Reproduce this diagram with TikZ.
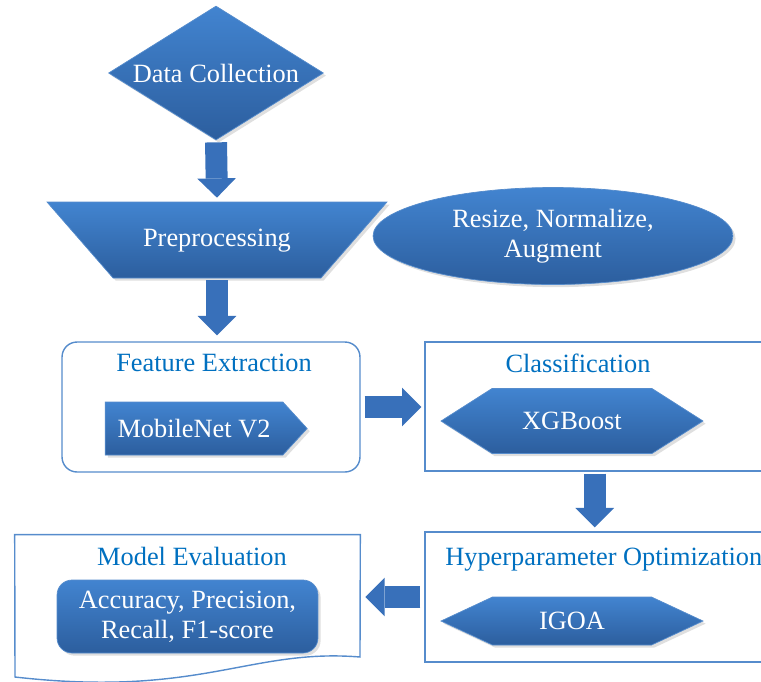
\documentclass[tikz,border=0pt]{standalone}
\usepackage{fontspec}
\setmainfont{Liberation Serif}
\newfontfamily\myserif{Liberation Serif}
\usepackage{tikz}
\usetikzlibrary{calc,shapes.geometric,shapes.symbols,arrows.meta,shadows,positioning}
\definecolor{myBlueTop}{RGB}{66,132,208}
\definecolor{myBlueBot}{RGB}{44,94,158}
\definecolor{myEdgeBlue}{RGB}{86,140,204}
\definecolor{myTitleBlue}{RGB}{0,112,192}
\definecolor{myArrowBlue}{RGB}{56,112,186}
\tikzset{
myShape/.style={
	top color=myBlueTop, bottom color=myBlueBot, draw=myEdgeBlue, thin,
	inner sep=0pt, text=white, align=center,
	font=\myserif\fontsize{15}{17}\selectfont,
	drop shadow={shadow xshift=1.5pt, shadow yshift=-1.5pt, opacity=0.25}
}
, myDiamond/.style={
	myShape, diamond, aspect=1.6, minimum width=4.3cm, minimum height=2.68cm
}
, myTrap/.style={
	myShape, trapezium, trapezium angle=49, shape border rotate=180,
	text height=0.4cm, text depth=0.13cm, inner ysep=0.495cm,
	trapezium stretches body=true, minimum width=6.8cm
}
, myEllipse/.style={
	myShape, ellipse, minimum width=7.2cm, minimum height=1.94cm
}
, myPointer/.style={
	myShape, signal, signal to=east, signal pointer angle=95,
	minimum width=4.04cm, minimum height=1.06cm
}
, myHexa/.style={
	myShape, signal, signal to=west and east, minimum width=5.24cm
}
, myRound/.style={
	myShape, rectangle, rounded corners=0.3cm,
	minimum width=5.22cm, minimum height=1.46cm
}
% group boxes
, myGroup/.style={
	draw=myEdgeBlue, line width=0.8pt, fill=white, inner sep=0pt
}
, myFrame/.style={draw=myEdgeBlue, line width=0.8pt}
, myTitle/.style={
	text=myTitleBlue, inner sep=0pt, font=\myserif\fontsize{15}{17}\selectfont
}
% link
, myFlow/.style={
	draw=myArrowBlue, line width=12.5pt,
	-{Triangle[width=22pt,length=11pt,line width=0pt]}
}
}

\begin{document}
\begin{tikzpicture}[x=0.02cm, y=-0.02cm]
	\useasboundingbox (0,0) rectangle (761,681);
	\clip (0,0) rectangle (761,681);
	% groups
	\node[myGroup, rounded corners=0.3cm, minimum width=5.96cm, minimum height=2.6cm] (Feat) at (211,407) {};
	\node[myGroup, minimum width=7.5cm, minimum height=2.58cm] (Class) at (612.5,406.5) {};
	\node[myGroup, minimum width=7.5cm, minimum height=2.6cm] (Hyper) at (612.5,597) {};
	\node[inner sep=0pt, minimum width=6.9cm, minimum height=2.56cm] (Eval) at (187.5,599) {};
	\draw[myFrame] (Eval.north west) -- (Eval.north east) -- (360,657)
		.. controls (250,648) and (200,698) .. (15,677) -- cycle;
	% titles
	\node[myTitle] (FeatTitle) at (214,363) {Feature Extraction};
	\node[myTitle] (ClassTitle) at (578,363) {Classification};
	\node[myTitle, anchor=west] (HyperTitle) at (445,560) {Hyperparameter Optimization};
	\node[myTitle] (EvalTitle) at (192,556) {Model Evaluation};
	% nodes
	\node[myDiamond] (DataCol) at (216,73) {Data Collection};
	\node[myTrap] (Prep) at (217,240) {Preprocessing};
	\node[myEllipse] (Resize) at (553,236) {Resize, Normalize,\\Augment};
	\node[myPointer] (Mobile) at (194,428.5) {MobileNet V2};
	\node[myHexa, minimum height=1.3cm, signal pointer angle=65] (XGB) at (572,421) {XGBoost};
	\node[myHexa, minimum height=0.96cm, signal pointer angle=50] (IGOA) at (572,621) {IGOA};
	\node[myRound] (Metrics) at (187.5,616.5) {Accuracy, Precision,\\Recall, F1-score};
	% links
	\draw[myFlow, shorten <=0.04cm, shorten >=0.08cm] (DataCol.south) -- (Prep.north);
	\draw[myFlow, shorten <=0.04cm, shorten >=0.12cm] (Prep.south) -- (Feat.north -| Prep.south);
	\draw[myFlow, shorten <=0.08cm, shorten >=0.06cm] (Feat.east) -- (Feat.east -| Class.west);
	\draw[myFlow, shorten <=0.04cm, shorten >=0.08cm]
		($(Class.south west)!0.453!(Class.south east)$) -- ($(Hyper.north west)!0.453!(Hyper.north east)$);
	\draw[myFlow, shorten <=0.08cm, shorten >=0.1cm] (Hyper.west) -- (Hyper.west -| Eval.east);
\end{tikzpicture}
\end{document}
